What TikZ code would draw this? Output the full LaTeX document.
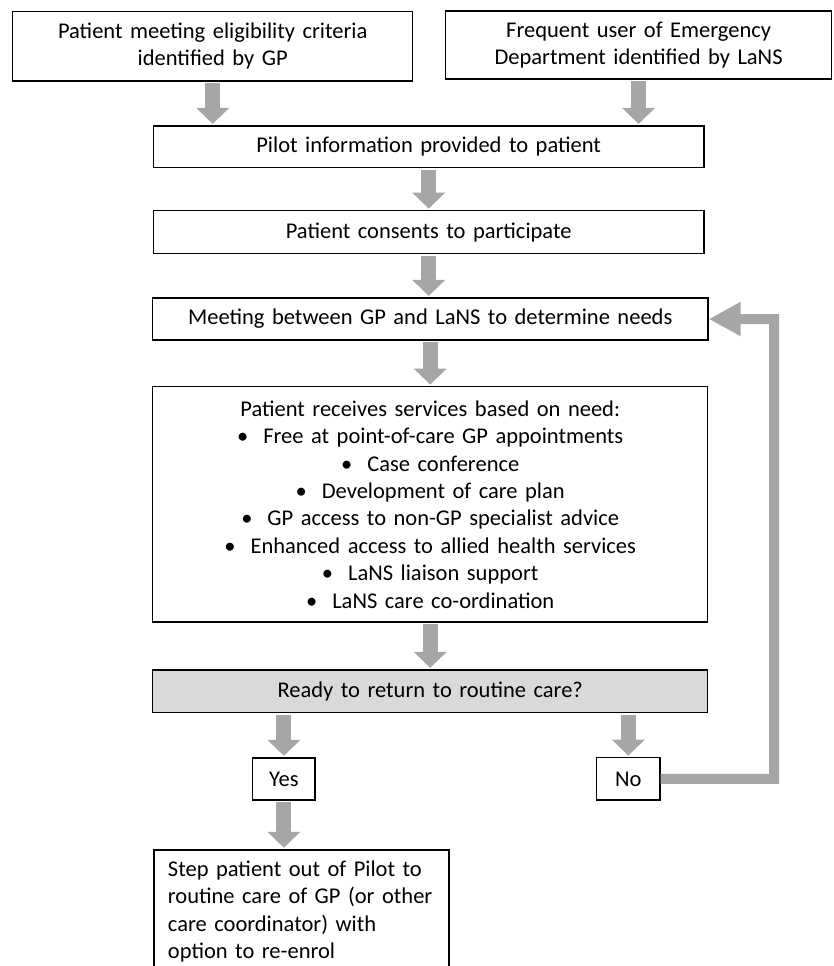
\documentclass[tikz,border=0pt]{standalone}
\usepackage{fontspec}
\setmainfont{Carlito}
\usetikzlibrary{positioning,arrows.meta}
\definecolor{arrowgray}{HTML}{A6A6A6}
\definecolor{decisiongray}{HTML}{D9D9D9}
\begin{document}
\begin{tikzpicture}[
  x=1pt, y=-1pt,
  every node/.style = {font=\fontsize{22.5pt}{27.4pt}\selectfont},
  box/.style = {draw, line width=1.3pt, inner xsep=0pt, inner ysep=0pt,
    align=center},
  decision/.style = {box, fill=decisiongray},
  flowarrow/.style = {draw=arrowgray, line width=15pt,
    shorten <=1.5pt, shorten >=1.5pt,
    -{Triangle[width=32pt,length=16pt]}},
  loopback/.style = {draw=arrowgray, line width=10pt, line join=miter,
    -{Triangle[width=32pt,length=32pt]}}]
  \useasboundingbox (0,0) rectangle (833,966);
  \clip (0,0) rectangle (833,966);
  \node[box, text width=400pt, minimum height=69.3pt] (elig) at (212.7,46.3)
    {Patient meeting eligibility criteria\\identified by GP};
  \node[box, text width=385.8pt, minimum height=68pt] (freq) at (638.6,45)
    {Frequent user of Emergency\\Department identified by LaNS};
  \node[box, text width=550.7pt, minimum height=41.5pt] (info) at (428.7,146.8)
    {Pilot information provided to patient};
  \node[box, text width=550.7pt, minimum height=42.6pt, below=41.9pt of info] (consent)
    {Patient consents to participate};
  \node[box, text width=555.7pt, minimum height=42pt, below=43.4pt of consent,
    xshift=1.5pt] (meet)
    {Meeting between GP and LaNS to determine needs};
  \node[box, text width=555pt, minimum height=235.3pt, below=45.4pt of meet] (serv)
    {Patient receives services based on need:\\
     \textbullet\hspace{15pt}Free at point-of-care GP appointments\\
     \textbullet\hspace{15pt}Case conference\\
     \textbullet\hspace{15pt}Development of care plan\\
     \textbullet\hspace{15pt}GP access to non-GP specialist advice\\
     \textbullet\hspace{15pt}Enhanced access to allied health services\\
     \textbullet\hspace{15pt}LaNS liaison support\\
     \textbullet\hspace{15pt}LaNS care co-ordination};
  \node[decision, text width=555.2pt, minimum height=42.7pt, below=46.7pt of serv] (ready)
    {Ready to return to routine care?};
  \node[box, text width=62.3pt, minimum height=42pt] (yes) at (283.9,779) {Yes};
  \node[box, text width=63.3pt, minimum height=42.3pt] (no) at (628.3,778.9) {No};
  \node[box, text width=267pt, inner xsep=14pt, inner ysep=11pt, align=left,
    anchor=north west] (stepout) at (153.3,849.3)
    {Step patient out of Pilot to\\routine care of GP (or other\\care coordinator) with\\option to re-enrol};
  \coordinate (turn) at (774,319);

  \draw[flowarrow] (elig.south) -- (elig.south |- info.north);
  \draw[flowarrow] (freq.south) -- (freq.south |- info.north);
  \draw[flowarrow] (info) -- (consent);
  \draw[flowarrow] (consent.south) -- (consent.south |- meet.north);
  \draw[flowarrow] (meet) -- (serv);
  \draw[flowarrow] (serv) -- (ready);
  \draw[flowarrow] (ready.south -| yes.north) -- (yes.north);
  \draw[flowarrow] (ready.south -| no.north) -- (no.north);
  \draw[flowarrow] (yes.south) -- (yes.south |- stepout.north);
  \draw[loopback] (no.east) -| (turn) -- (meet.east);
\end{tikzpicture}
\end{document}
